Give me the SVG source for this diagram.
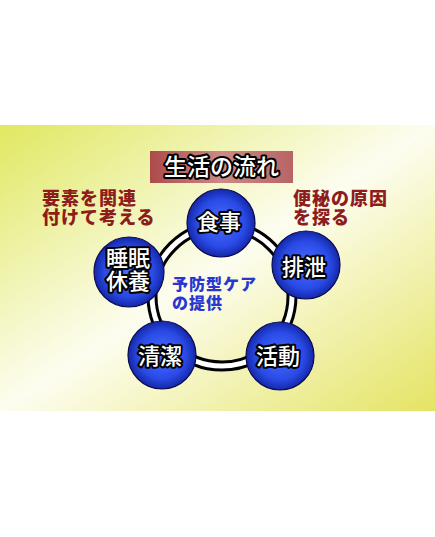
<svg xmlns="http://www.w3.org/2000/svg" width="435" height="537" viewBox="0 0 435 537">
<defs>
<linearGradient id="bg" x1="0" y1="0" x2="1" y2="1">
<stop offset="0" stop-color="#e0e862"/>
<stop offset="0.5" stop-color="#fdfdf0"/>
<stop offset="1" stop-color="#e4e464"/>
</linearGradient>
<linearGradient id="tb" x1="0" y1="0" x2="1" y2="0">
<stop offset="0" stop-color="#ad4a4a"/>
<stop offset="0.5" stop-color="#cc8a88"/>
<stop offset="1" stop-color="#b86464"/>
</linearGradient>
<radialGradient id="ball" cx="0.5" cy="0.5" r="0.5">
<stop offset="0" stop-color="#4a6cff"/>
<stop offset="0.7" stop-color="#2a4ae6"/>
<stop offset="1" stop-color="#1428a8"/>
</radialGradient>
<style>
.node{fill:url(#ball);stroke:#0a0a50;stroke-width:1.2}
.lbl{font-family:"Noto Sans CJK JP","Noto Sans CJK SC",sans-serif;font-size:22px;font-weight:500;fill:#fff;stroke:#000;stroke-width:4;stroke-linejoin:round;paint-order:stroke;text-anchor:middle}
.red{font-family:"Noto Sans CJK JP",sans-serif;font-size:18px;font-weight:900;fill:#8e1c1c;letter-spacing:1px}
.blue{font-family:"Noto Sans CJK JP",sans-serif;font-size:16px;font-weight:900;fill:#2a36d0;letter-spacing:1px}
</style>
</defs>
<rect x="0" y="0" width="435" height="537" fill="#fff"/>
<rect x="0" y="125" width="435" height="286" fill="url(#bg)"/>
<g id="title">
<rect x="150" y="151" width="143" height="32" fill="url(#tb)"/>
<text class="lbl" x="221.5" y="175" style="font-size:23px">生活の流れ</text>
</g>
<g id="connectors">
<circle cx="222" cy="296" r="70" fill="none" stroke="#000" stroke-width="11"/>
<circle cx="222" cy="296" r="70" fill="none" stroke="#fff" stroke-width="5"/>
</g>
<g id="note-left">
<text class="red" x="42" y="205">要素を関連</text>
<text class="red" x="42" y="224">付けて考える</text>
</g>
<g id="note-right">
<text class="red" x="293" y="205">便秘の原因</text>
<text class="red" x="293" y="224">を探る</text>
</g>
<g id="center">
<text class="blue" x="172" y="290">予防型ケア</text>
<text class="blue" x="172" y="309">の提供</text>
</g>
<g id="shokuji">
<circle class="node" cx="221" cy="223" r="34"/>
<text class="lbl" x="219" y="230">食事</text>
</g>
<g id="haisetsu">
<circle class="node" cx="306" cy="265" r="34"/>
<text class="lbl" x="304" y="275">排泄</text>
</g>
<g id="katsudou">
<circle class="node" cx="280" cy="356" r="34"/>
<text class="lbl" x="278" y="364">活動</text>
</g>
<g id="seiketsu">
<circle class="node" cx="162" cy="355" r="34"/>
<text class="lbl" x="160" y="364">清潔</text>
</g>
<g id="suimin">
<circle class="node" cx="129" cy="272" r="35"/>
<text class="lbl" x="128" y="266">睡眠</text>
<text class="lbl" x="128" y="289">休養</text>
</g>
</svg>
